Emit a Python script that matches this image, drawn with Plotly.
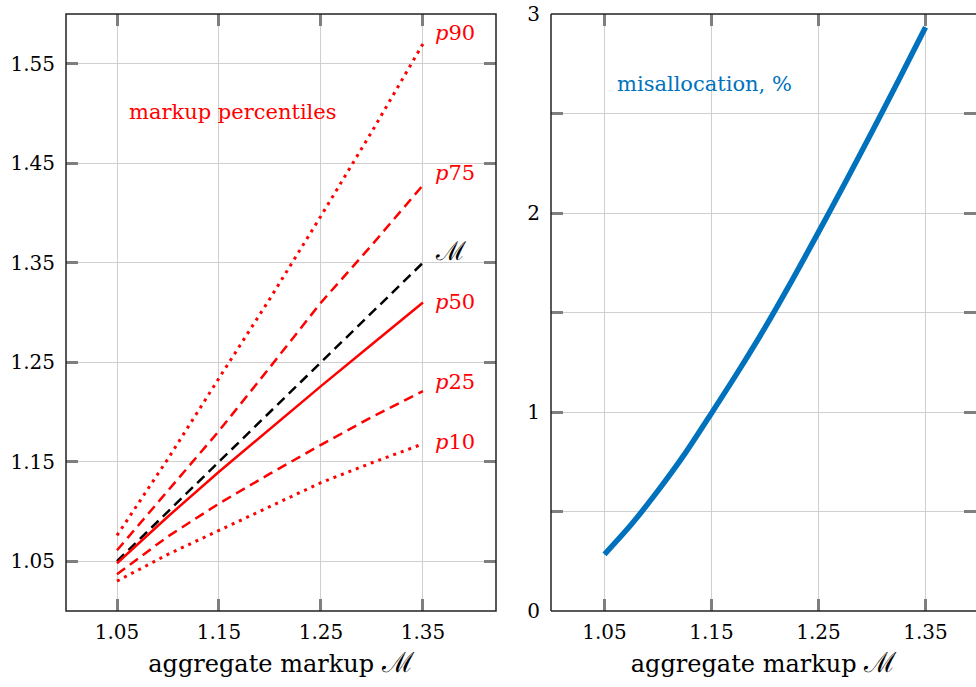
import plotly.graph_objects as go
from plotly.subplots import make_subplots

# ---------------- data ----------------
markup = [1.05, 1.10, 1.15, 1.20, 1.25, 1.30, 1.35]
p90 = [1.076, 1.153, 1.234, 1.314, 1.397, 1.482, 1.570]
p75 = [1.061, 1.121, 1.181, 1.245, 1.310, 1.368, 1.428]
agg = [1.05, 1.10, 1.15, 1.20, 1.25, 1.30, 1.35]
p50 = [1.048, 1.095, 1.140, 1.183, 1.226, 1.268, 1.310]
p25 = [1.037, 1.075, 1.108, 1.138, 1.167, 1.195, 1.221]
p10 = [1.030, 1.057, 1.081, 1.105, 1.129, 1.149, 1.168]

mis_x = [1.05, 1.075, 1.10, 1.125, 1.15, 1.175, 1.20, 1.225, 1.25, 1.275, 1.30, 1.325, 1.35]
mis_y = [0.285, 0.435, 0.605, 0.79, 0.995, 1.205, 1.425, 1.66, 1.905, 2.155, 2.41, 2.67, 2.935]

left_yticks = [1.05, 1.15, 1.25, 1.35, 1.45, 1.55]
xticks = [1.05, 1.15, 1.25, 1.35]
right_yticks = [0, 0.5, 1, 1.5, 2, 2.5, 3]
right_ytext = ["0", "", "1", "", "2", "", "3"]

pct_labels = [("<i>p</i>90", 1.581, "red"), ("<i>p</i>75", 1.440, "red"),
              ("ℳ", 1.362, "black"), ("<i>p</i>50", 1.311, "red"),
              ("<i>p</i>25", 1.230, "red"), ("<i>p</i>10", 1.170, "red")]

FONT = "DejaVu Serif"
RED = "#ff0000"
BLUE = "#0072BD"
GRID = "#cfcfcf"
TICK = "#7f7f7f"

W, H = 976, 687
fig = make_subplots(rows=1, cols=2)

dot = "3px,5px"
dash = "10px,6px"
fig.add_trace(go.Scatter(x=markup, y=p90, mode="lines", line=dict(color=RED, width=3, dash=dot)), 1, 1)
fig.add_trace(go.Scatter(x=markup, y=p75, mode="lines", line=dict(color=RED, width=2.5, dash=dash)), 1, 1)
fig.add_trace(go.Scatter(x=markup, y=agg, mode="lines", line=dict(color="black", width=2.5, dash=dash)), 1, 1)
fig.add_trace(go.Scatter(x=markup, y=p50, mode="lines", line=dict(color=RED, width=2.5)), 1, 1)
fig.add_trace(go.Scatter(x=markup, y=p25, mode="lines", line=dict(color=RED, width=2.5, dash=dash)), 1, 1)
fig.add_trace(go.Scatter(x=markup, y=p10, mode="lines", line=dict(color=RED, width=3, dash=dot)), 1, 1)

fig.add_trace(go.Scatter(x=mis_x, y=mis_y, mode="lines", line=dict(color=BLUE, width=5.5, shape="spline", smoothing=0.8)), 1, 2)

L0, L1 = 66 / W, 496 / W
R0, R1 = 551 / W, 1.0

axcommon = dict(showgrid=True, gridcolor=GRID, gridwidth=1, zeroline=False,
                showline=False, mirror="ticks", ticks="inside", ticklen=12,
                tickwidth=3, tickcolor=TICK, ticklabeloverflow="allow", automargin=False,
                tickfont=dict(family=FONT, size=20, color="black"))

fig.update_xaxes(**axcommon, tickvals=xticks, ticktext=[f"{v:.2f}" for v in xticks],
                 ticklabelstandoff=7,
                 title=dict(text="aggregate markup <span style='font-size:28px'>ℳ</span>",
                            font=dict(family=FONT, size=24, color="black"), standoff=12))
fig.update_xaxes(domain=[L0, L1], range=[1.0, 1.4216], row=1, col=1)
fig.update_xaxes(domain=[R0, R1], range=[1.0, 1.0 + (976 - 551) / 1070], row=1, col=2)

fig.update_yaxes(**axcommon)
fig.update_yaxes(range=[1.0, 1.6], tickvals=left_yticks, ticktext=[f"{v:.2f}" for v in left_yticks],
                 ticklabelstandoff=10, row=1, col=1)
fig.update_yaxes(range=[0, 3.002], tickvals=right_yticks, ticktext=right_ytext,
                 ticklabelstandoff=10, row=1, col=2)

# frames
frame = dict(color="#222222", width=1.5)
fig.add_shape(type="rect", xref="x domain", yref="y domain", x0=0, x1=1, y0=0, y1=1, line=frame)
for (x0, y0, x1, y1) in [(0, 0, 0, 1), (0, 1, 1.05, 1), (0, 0, 1.05, 0)]:
    fig.add_shape(type="line", xref="x2 domain", yref="y2 domain", x0=x0, y0=y0, x1=x1, y1=y1, line=frame)

for txt, yv, col in pct_labels:
    sz = 26 if col == "black" else 21
    fig.add_annotation(x=1.36, y=yv, xref="x", yref="y", text=txt, showarrow=False,
                       xanchor="left", yanchor="middle",
                       font=dict(family=FONT, size=sz, color=col))

fig.add_annotation(x=1.06, y=1.502, xref="x", yref="y", text="markup percentiles", showarrow=False,
                   xanchor="left", yanchor="middle", font=dict(family=FONT, size=21, color=RED))
fig.add_annotation(x=1.0598, y=2.65, xref="x2", yref="y2", text="misallocation, %", showarrow=False,
                   xanchor="left", yanchor="middle", font=dict(family=FONT, size=21, color=BLUE))

fig.update_layout(width=W, height=H, margin=dict(l=0, r=0, t=14, b=76),
                  plot_bgcolor="white", paper_bgcolor="white", showlegend=False)

fig.write_html("out.html")
